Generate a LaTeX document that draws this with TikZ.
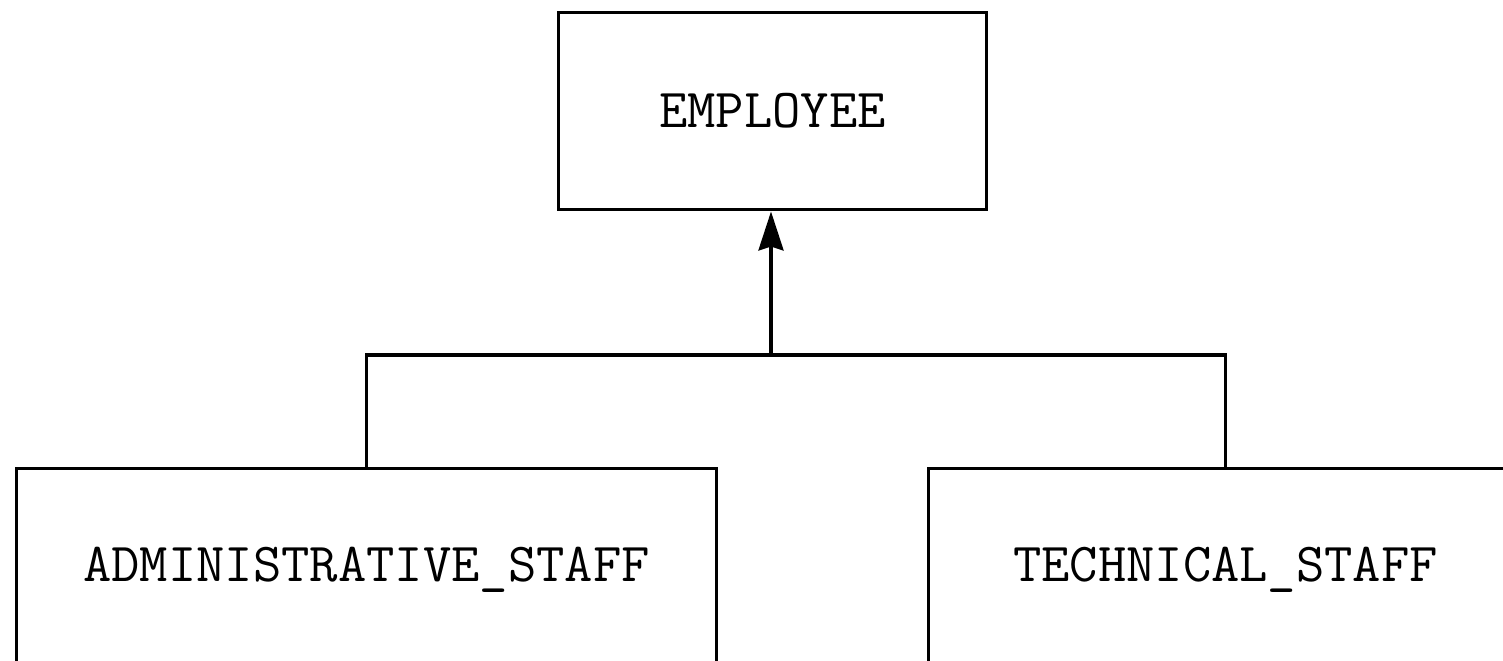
\documentclass[tikz,border=0pt]{standalone}
\usetikzlibrary{arrows.meta}
\tikzset{
  box/.style={draw=black, line width=0.06cm, rectangle, inner sep=0pt, font=\ttfamily\fontsize{31.3}{34}\selectfont},
  conn/.style={draw=black, line width=0.07cm},
}
\begin{document}
\begin{tikzpicture}[x=0.02cm,y=-0.02cm]
\useasboundingbox (0,0) rectangle (1503,660);
\clip (0,0) rectangle (1503,660);
\fill[white] (0,0) rectangle (1503,660);
\node[box, minimum width=8.58cm, minimum height=3.96cm] (emp) at (772.5,111) {EMPLOYEE};
\node[box, minimum width=14.02cm, minimum height=4.08cm] (admin) at (366.5,570) {ADMINISTRATIVE\_STAFF};
\node[box, minimum width=11.9cm, minimum height=4.08cm] (tech) at (1225.5,570) {TECHNICAL\_STAFF};
\coordinate (j) at (771,355);
\draw[conn] (admin.north) |- (j) -| (tech.north);
\draw[conn, -{Stealth[length=0.78cm, width=0.5cm, inset=0.08cm]}] (j) -- (j |- emp.south);
\end{tikzpicture}
\end{document}
